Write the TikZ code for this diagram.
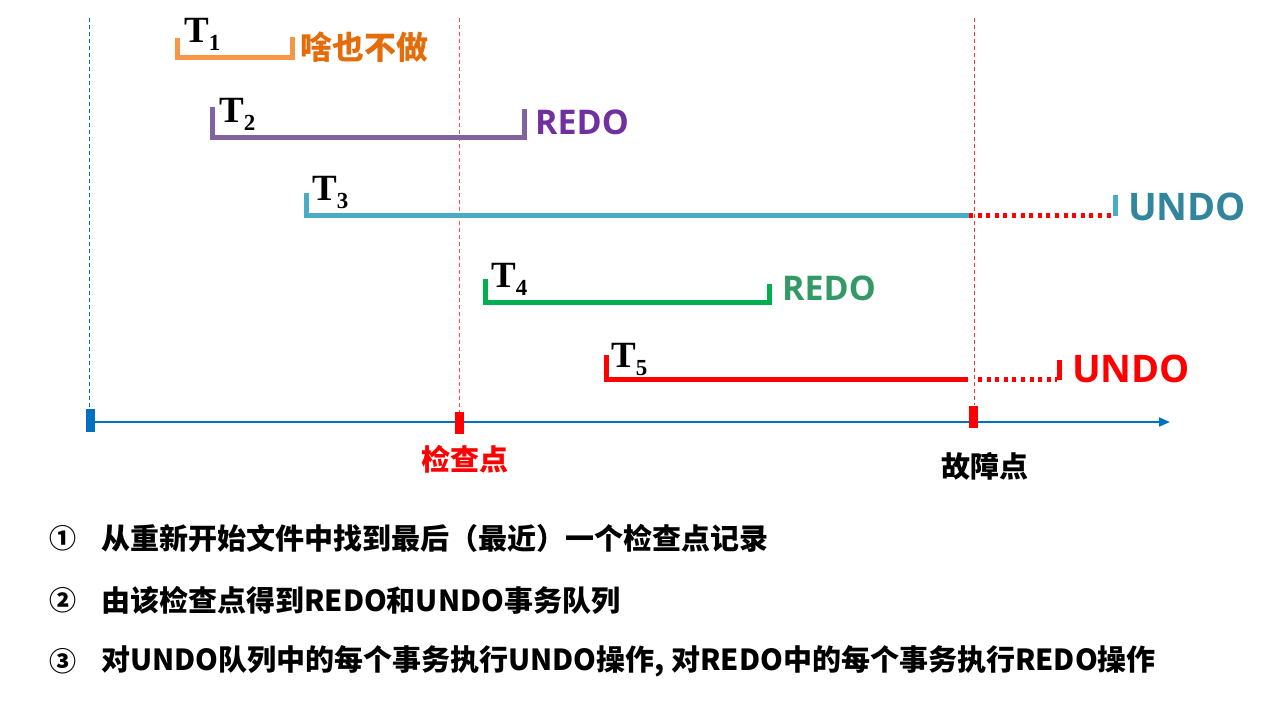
\documentclass[tikz,border=0pt]{standalone}
\usepackage{fontspec}
\newfontfamily\cjk{Noto Sans CJK SC}
\newfontfamily\lat{Open Sans}
\newfontfamily\tms{Liberation Serif}
\usetikzlibrary{arrows.meta}
\definecolor{axisblue}{HTML}{0070C0}
\definecolor{barorange}{HTML}{F79646}
\definecolor{txtorange}{HTML}{E46C0A}
\definecolor{barpurple}{HTML}{8064A2}
\definecolor{txtpurple}{HTML}{7030A0}
\definecolor{barcyan}{HTML}{4BACC6}
\definecolor{txtteal}{HTML}{31859C}
\definecolor{bargreen}{HTML}{00B050}
\definecolor{txtgreen}{RGB}{51,153,102}
\definecolor{pured}{HTML}{FF0000}
\newcommand\tsub[1]{\raisebox{-8.5pt}{\fontsize{23}{23}\selectfont #1}}
\begin{document}
\begin{tikzpicture}[x=1pt,y=-1pt,
  bar/.style={line width=5pt, line cap=butt, line join=miter},
  guide/.style={line width=0.8pt, dash pattern=on 4pt off 3pt},
  dots/.style={pured, line width=4.5pt, dash pattern=on 4pt off 4.6pt},
  tlab/.style={anchor=base west, inner sep=0pt, font=\tms\bfseries\fontsize{37}{37}\selectfont},
  optxt/.style={anchor=base west, inner sep=0pt, font=\lat\bfseries},
  cjktxt/.style={inner sep=0pt, font=\cjk\bfseries},
  tick/.style={minimum width=9pt, minimum height=23pt, inner sep=0pt, draw=none},
  axisline/.style={axisblue, line width=2pt, -{Triangle[length=11pt,width=9pt]}},
  steptxt/.style={anchor=west, inner sep=0pt, font=\cjk\bfseries\fontsize{29}{29}\selectfont}
]
\useasboundingbox (0,0) rectangle (1272,702);

% guides
\coordinate (g0t) at (89.5,18); \coordinate (g0b) at (89.5,409);
\coordinate (g1t) at (459.5,18); \coordinate (g1b) at (459.5,412);
\coordinate (g2t) at (974,18); \coordinate (g2b) at (974,405);
\draw[guide, axisblue] (g0t) -- (g0b);
\draw[guide, pured!70] (g1t) -- (g1b);
\draw[guide, pured!80] (g2t) -- (g2b);

% axis
\coordinate (ax0) at (90,422);
\coordinate (ax1) at (1170,422);
\draw[axisline] (ax0) -- (ax1);
\node[tick, fill=axisblue] (start) at (90.5,420.5) {};
\node[tick, fill=pured, minimum height=22pt] (ckpt) at (459.5,423) {};
\node[tick, fill=pured, minimum height=22pt] (fail) at (973.5,417) {};
\node[cjktxt, text=pured, font=\cjk\bfseries\fontsize{29}{29}\selectfont] (ckptlab) at (465,459) {检查点};
\node[cjktxt, text=black, font=\cjk\bfseries\fontsize{29}{29}\selectfont] (faillab) at (985,466) {故障点};

% T1
\coordinate (a1) at (177.5,38); \coordinate (b1) at (177.5,57.5);
\coordinate (c1) at (292.5,57.5); \coordinate (d1) at (292.5,37);
\draw[bar, barorange] (a1) -- (b1) -- (c1) -- (d1);
\node[tlab] (T1) at (184,42) {T\tsub{1}};
\node[cjktxt, anchor=west, text=txtorange, font=\cjk\bfseries\fontsize{32}{32}\selectfont] (l1) at (300,47.5) {啥也不做};

% T2
\coordinate (a2) at (212,107); \coordinate (b2) at (212,137.5);
\coordinate (c2) at (524.5,137.5); \coordinate (d2) at (524.5,109);
\draw[bar, barpurple] (a2) -- (b2) -- (c2) -- (d2);
\node[tlab] (T2) at (219,122) {T\tsub{2}};
\node[optxt, text=txtpurple, font=\lat\bfseries\fontsize{34}{34}\selectfont] (l2) at (535,134) {REDO};

% T3
\coordinate (a3) at (306,193); \coordinate (b3) at (306,215.5);
\coordinate (c3) at (969,215.5); \coordinate (d3) at (1113,215.5);
\coordinate (e3) at (1115,215.5); \coordinate (f3) at (1115,195);
\draw[bar, barcyan] (a3) -- (b3) -- (c3);
\draw[dots] (c3) -- (d3);
\draw[bar, barcyan] (e3) -- (f3);
\node[tlab] (T3) at (312,200) {T\tsub{3}};
\node[optxt, text=txtteal, font=\lat\bfseries\fontsize{38}{38}\selectfont] (l3) at (1128,220) {UNDO};

% T4
\coordinate (a4) at (485,279); \coordinate (b4) at (485,302);
\coordinate (c4) at (769.5,302); \coordinate (d4) at (769.5,284);
\draw[bar, bargreen] (a4) -- (b4) -- (c4) -- (d4);
\node[tlab] (T4) at (491,287) {T\tsub{4}};
\node[optxt, text=txtgreen, font=\lat\bfseries\fontsize{34}{34}\selectfont] (l4) at (782,300) {REDO};

% T5
\coordinate (a5) at (606,355); \coordinate (b5) at (606,379.5);
\coordinate (c5) at (968,379.5); \coordinate (d5) at (1057,379.5);
\coordinate (e5) at (1059.5,379.5); \coordinate (f5) at (1059.5,360);
\draw[bar, pured] (a5) -- (b5) -- (c5);
\draw[dots] ([xshift=10pt]c5) -- (d5);
\draw[bar, pured] (e5) -- (f5);
\node[tlab] (T5) at (611,367) {T\tsub{5}};
\node[optxt, text=pured, font=\lat\bfseries\fontsize{38}{38}\selectfont] (l5) at (1072,382) {UNDO};

% steps
\node[cjktxt, font=\cjk\bfseries\fontsize{27}{27}\selectfont] (n1) at (63,538) {①};
\node[cjktxt, font=\cjk\bfseries\fontsize{27}{27}\selectfont] (n2) at (63,600) {②};
\node[cjktxt, font=\cjk\bfseries\fontsize{27}{27}\selectfont] (n3) at (63,661) {③};
\node[steptxt] (s1) at (101,538) {从重新开始文件中找到最后（最近）一个检查点记录};
\node[steptxt] (s2) at (101,600) {由该检查点得到REDO和UNDO事务队列};
\node[steptxt] (s3) at (101,661) {对UNDO队列中的每个事务执行UNDO操作, 对REDO中的每个事务执行REDO操作};
\end{tikzpicture}
\end{document}
